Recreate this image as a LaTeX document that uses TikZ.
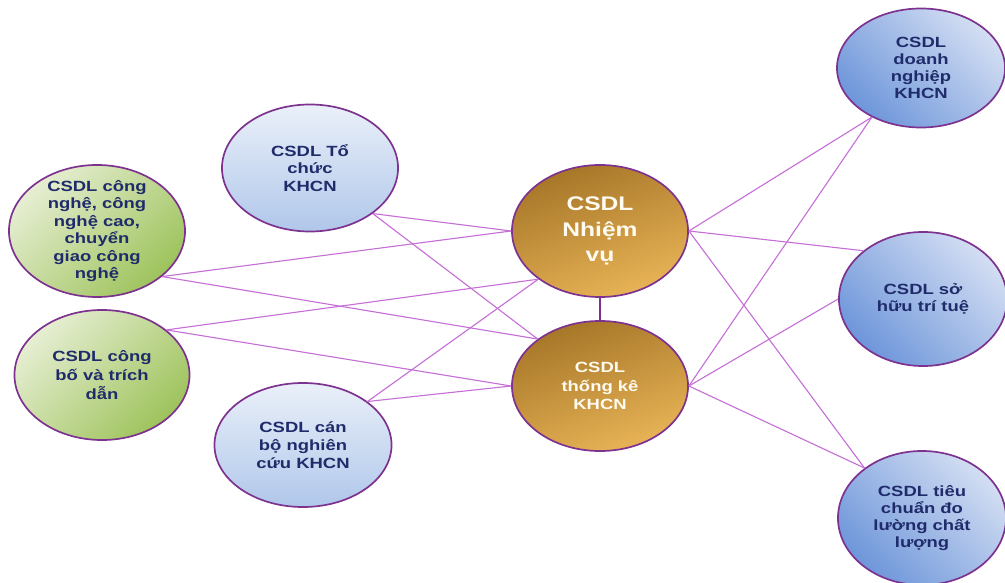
\documentclass[tikz,border=0pt]{standalone}
\usepackage{fontspec}
\setmainfont{Liberation Sans}[FakeStretch=1.25]
\usepackage{tikz}
\usetikzlibrary{shapes.geometric}

\definecolor{rim}{HTML}{7D3290}
\definecolor{link}{HTML}{C670D6}
\definecolor{navy}{HTML}{1F2B6A}
\definecolor{cream}{HTML}{FFFBF0}
\definecolor{greenA}{HTML}{E6EED2}
\definecolor{greenB}{HTML}{9EC35C}
\definecolor{paleA}{HTML}{EAF0F9}
\definecolor{paleB}{HTML}{B0C7EA}
\definecolor{blueA}{HTML}{D3DEF3}
\definecolor{blueB}{HTML}{6E96DA}
\definecolor{goldA}{HTML}{A67628}
\definecolor{goldB}{HTML}{E9B457}

\begin{document}
\begin{tikzpicture}[x=0.025cm, y=-0.025cm,
    csdl/.style={ellipse, draw=rim, line width=1.2pt, inner sep=-4mm, align=center,
      text=navy, font=\bfseries\fontsize{10.5}{12.5}\selectfont},
    xanhla/.style={csdl, top color=greenA, bottom color=greenB, shading angle=45},
    xanhnhat/.style={csdl, top color=paleA, bottom color=paleB},
    xanh/.style={csdl, top color=blueA, bottom color=blueB, shading angle=-45},
    vang/.style={csdl, top color=goldA, bottom color=goldB, shading angle=20, text=cream},
    noi/.style={draw=link, line width=0.8pt}
  ]
  \useasboundingbox (0,0) rectangle (1005,583);

  \node[vang, minimum width=4.4cm, minimum height=3.3cm,
    font=\bfseries\fontsize{14}{18}\selectfont] (nhiemvu) at (600,231)
    {CSDL\\Nhiệm\\vụ};
  \node[vang, minimum width=4.4cm, minimum height=3.25cm,
    font=\bfseries\fontsize{10.5}{13}\selectfont] (thongke) at (600,386)
    {CSDL\\thống kê\\KHCN};

  \node[xanhnhat, minimum width=4.4cm, minimum height=3.175cm] (tochuc) at (310,168)
    {CSDL Tổ\\chức\\KHCN};
  \node[xanhla, minimum width=4.4cm, minimum height=3.3cm] (congnghe) at (97,231)
    {CSDL công\\nghệ, công\\nghệ cao,\\chuyển\\giao công\\nghệ};
  \node[xanhla, minimum width=4.375cm, minimum height=3.25cm,
    font=\bfseries\fontsize{10.5}{13.5}\selectfont] (congbo) at (102,375)
    {CSDL công\\bố và trích\\dẫn};
  \node[xanhnhat, minimum width=4.425cm, minimum height=3.1cm,
    font=\bfseries\fontsize{10.5}{13}\selectfont] (canbo) at (303,445)
    {CSDL cán\\bộ nghiên\\cứu KHCN};

  \node[xanh, minimum width=4.2cm, minimum height=2.975cm,
    font=\bfseries\fontsize{10.5}{12}\selectfont] (doanhnghiep) at (921,68)
    {CSDL\\doanh\\nghiệp\\KHCN};
  \node[xanh, minimum width=4.2cm, minimum height=3.35cm,
    font=\bfseries\fontsize{10.5}{12}\selectfont] (sohuu) at (923,299)
    {CSDL sở\\hữu trí tuệ};
  \node[xanh, minimum width=4.2cm, minimum height=3.35cm,
    font=\bfseries\fontsize{10.5}{12}\selectfont] (tieuchuan) at (922,518)
    {CSDL tiêu\\chuẩn đo\\lường chất\\lượng};

  \draw[draw=rim, line width=0.9pt] (nhiemvu.south) -- (thongke.north);

  \draw[noi] (tochuc.-36) -- (nhiemvu.west);
  \draw[noi] (tochuc.-36) -- (thongke.143);
  \draw[noi] (congnghe.-35) -- (nhiemvu.west);
  \draw[noi] (congnghe.-35) -- (thongke.143);
  \draw[noi] (congbo.35) -- (nhiemvu.-142);
  \draw[noi] (congbo.35) -- (thongke.west);
  \draw[noi] (canbo.34) -- (nhiemvu.-142);
  \draw[noi] (canbo.34) -- (thongke.west);

  \draw[noi] (nhiemvu.east) -- (doanhnghiep.-135);
  \draw[noi] (nhiemvu.east) -- (sohuu.141);
  \draw[noi] (nhiemvu.east) -- (tieuchuan.139);
  \draw[noi] (thongke.east) -- (doanhnghiep.-135);
  \draw[noi] (thongke.east) -- (sohuu.west);
  \draw[noi] (thongke.east) -- (tieuchuan.139);
\end{tikzpicture}
\end{document}
